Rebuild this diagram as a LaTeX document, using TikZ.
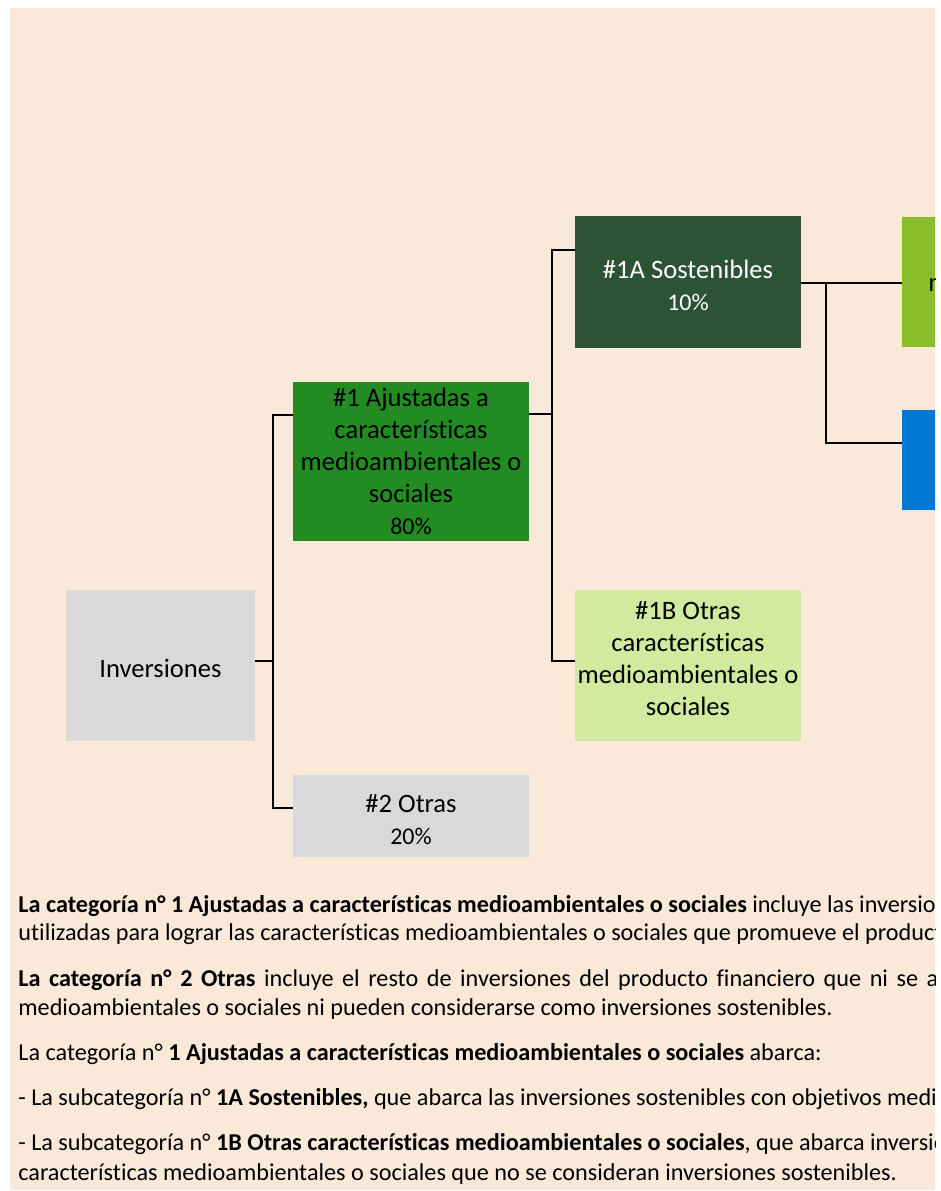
\documentclass[tikz,border=0pt]{standalone}
\usepackage{fontspec}
\setmainfont{Carlito}[Ligatures=NoCommon]
\definecolor{fondo}{HTML}{FAE8D8}
\definecolor{gris}{HTML}{D9D9D9}
\definecolor{verdeaj}{HTML}{228B22}
\definecolor{verdeosc}{HTML}{2D5335}
\definecolor{verdeclaro}{HTML}{D2EAA0}
\definecolor{lima}{HTML}{8ABD2A}
\definecolor{azul}{HTML}{0078D4}
\newcommand{\pct}{\fontsize{12}{15}\selectfont}
\begin{document}
\begin{tikzpicture}[x=0.5pt,y=-0.5pt,
    box/.style={inner sep=0pt, align=center, font=\fontsize{13.3}{16}\selectfont},
    link/.style={line width=1.3pt},
    para/.style={anchor=base west, inner sep=0pt, font=\fontsize{12.1}{14.5}\selectfont}]
    % marco y fondo
    \useasboundingbox (0,0) rectangle (941,1191);
    \fill[white] (0,0) rectangle (941,1191);
    \fill[fondo] (10,8) rectangle (935,1190);
    \begin{scope}
    \clip (10,8) rectangle (935,1190);

    % cajas del arbol
    \node[box, fill=gris, minimum width=94.5pt, minimum height=75.5pt, text height=12.4pt, text depth=0pt] (inv) at (160.5,665.5) {Inversiones};
    \node[box, fill=verdeaj, minimum width=118pt, minimum height=79.5pt] (cat1) at (411,461.5)
        {\#1 Ajustadas a\\características\\medioambientales o\\sociales\\{\pct 80\%}};
    \node[box, fill=gris, minimum width=118pt, minimum height=41pt, text height=28.6pt, text depth=0pt] (cat2) at (411,816) {\#2 Otras\\{\pct 20\%}};
    \node[box, fill=verdeosc, text=white, minimum width=113pt, minimum height=66pt, text height=28.6pt, text depth=0pt] (sub1A) at (688,282)
        {\#1A Sostenibles\\{\pct 10\%}};
    \node[box, fill=verdeclaro, minimum width=113pt, minimum height=75.5pt, text depth=7pt] (sub1B) at (688,665.5)
        {\#1B Otras\\características\\medioambientales o\\sociales};
    \node[box, fill=lima, anchor=north west, minimum height=65pt, text width=87pt, align=left, inner xsep=13pt] (tax) at (902,217)
        {medioambientales};
    \node[box, fill=azul, anchor=north west, minimum width=113pt, minimum height=50pt] (otras) at (902,410) {};

    % conectores
    \coordinate (bus1) at (273,661);
    \draw[link] (inv.east |- bus1) -- (bus1);
    \draw[link] (cat1.west |- 0,415) -| (bus1) |- (cat2.west |- 0,808);
    \coordinate (bus2) at (552,414);
    \draw[link] (cat1.east |- bus2) -- (bus2);
    \draw[link] (sub1A.west |- 0,250) -| (bus2) |- (sub1B.west |- 0,661);
    \coordinate (bus3) at (826,283);
    \draw[link] (sub1A.east |- bus3) -- (tax.west |- bus3);
    \draw[link] (bus3) |- (otras.west |- 0,443);

    % texto explicativo
    \node[para] (p1) at (18,912) {\textbf{La categoría n° 1 Ajustadas a características medioambientales o sociales} incluye las inversiones};
    \node[para] (p2) at (18,940) {utilizadas para lograr las características medioambientales o sociales que promueve el producto};
    \node[para] (p3) at (18,986) {\makebox[460pt][s]{\textbf{La categoría n° 2 Otras} incluye el resto de inversiones del producto financiero que ni se a}justan};
    \node[para] (p4) at (18,1015) {medioambientales o sociales ni pueden considerarse como inversiones sostenibles.};
    \node[para] (p5) at (18,1060) {La categoría n° \textbf{1 Ajustadas a características medioambientales o sociales} abarca:};
    \node[para] (p6) at (18,1105) {- La subcategoría n° \textbf{1A Sostenibles,} que abarca las inversiones sostenibles con objetivos medioambientales};
    \node[para] (p7) at (18,1150) {- La subcategoría n° \textbf{1B Otras características medioambientales o sociales}, que abarca inversiones};
    \node[para] (p8) at (18,1180) {características medioambientales o sociales que no se consideran inversiones sostenibles.};
    \end{scope}
\end{tikzpicture}
\end{document}
